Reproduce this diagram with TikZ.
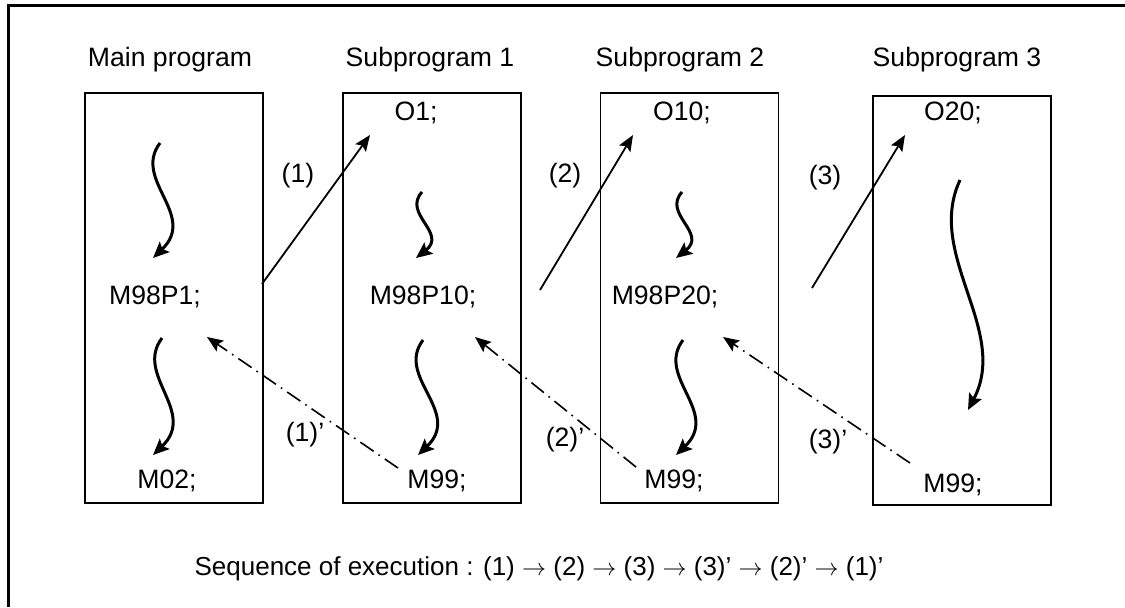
\documentclass[tikz,border=0pt]{standalone}
\usepackage{fontspec}
\setmainfont{Liberation Sans}
\usetikzlibrary{arrows.meta}

\begin{document}
\begin{tikzpicture}[x=0.5pt, y=-0.5pt, font=\fontsize{13.3}{16}\selectfont,
    prog/.style={draw, line width=0.75pt, minimum width=89pt, minimum height=205pt, inner sep=0pt},
    lbl/.style={anchor=base, inner sep=0pt},
    call/.style={-{Stealth[length=8pt, width=6.5pt, inset=1.5pt]}, line width=0.9pt},
    back/.style={call, line width=0.8pt, dash pattern=on 8pt off 3pt on 0.8pt off 3pt},
    flow/.style={-{Stealth[length=8pt, width=7pt, inset=1.5pt]}, line width=1.5pt}]
    \useasboundingbox (0,0) rectangle (1125,607);
    \draw[line width=1.35pt] (1125,5.5) -- (8.3,5.5) -- (8.3,607);

    % Nodes
    \node (mainbox) [prog] at (174,298) {};
    \node (sub1box) [prog] at (432,298) {};
    \node (sub2box) [prog] at (689.5,298) {};
    \node (sub3box) [prog, minimum height=204.5pt] at (962,300.5) {};

    \node (maintitle) [lbl] at (170,66) {Main program};
    \node (sub1title) [lbl] at (430,66) {Subprogram 1};
    \node (sub2title) [lbl] at (680,66) {Subprogram 2};
    \node (sub3title) [lbl] at (957,66) {Subprogram 3};

    \node (m98p1) [lbl] at (155,304) {M98P1;};
    \node (m02) [lbl] at (167,488) {M02;};
    \node (o1) [lbl] at (416,120) {O1;};
    \node (m98p10) [lbl] at (423,304) {M98P10;};
    \node (m99a) [lbl] at (437,488) {M99;};
    \node (o10) [lbl] at (682,120) {O10;};
    \node (m98p20) [lbl] at (665,304) {M98P20;};
    \node (m99b) [lbl] at (674,488) {M99;};
    \node (o20) [lbl] at (953,120) {O20;};
    \node (m99c) [lbl] at (953,492) {M99;};

    \node (go1) [lbl] at (298,182) {(1)};
    \node (go2) [lbl] at (565,182) {(2)};
    \node (go3) [lbl] at (825,184) {(3)};
    \node (ret1) [lbl] at (305,441) {(1)'};
    \node (ret2) [lbl] at (565,446) {(2)'};
    \node (ret3) [lbl] at (828,448) {(3)'};

    \node (seq) [lbl, font=\fontsize{13}{16}\selectfont] at (539,575) {Sequence of execution : (1) $\rightarrow$ (2) $\rightarrow$ (3) $\rightarrow$ (3)' $\rightarrow$ (2)' $\rightarrow$ (1)'};

    % Ends of the jumps
    \coordinate (call1s) at (262,284);  \coordinate (call1e) at (370,135);
    \coordinate (call2s) at (540,290);  \coordinate (call2e) at (633,135);
    \coordinate (call3s) at (812,288);  \coordinate (call3e) at (905,135);
    \coordinate (back1s) at (398,468);  \coordinate (back1e) at (207,337);
    \coordinate (back2s) at (636,467);  \coordinate (back2e) at (475,337);
    \coordinate (back3s) at (910,463);  \coordinate (back3e) at (723,337);

    % Ends of the run arrows
    \coordinate (run1a) at (160,143);  \coordinate (run1b) at (153,258);
    \coordinate (run2a) at (162,338);  \coordinate (run2b) at (153,455);
    \coordinate (run3a) at (423,340);  \coordinate (run3b) at (418,455);
    \coordinate (run4a) at (683,340);  \coordinate (run4b) at (676,455);
    \coordinate (run5a) at (422,192);  \coordinate (run5b) at (416,258);
    \coordinate (run6a) at (682,192);  \coordinate (run6b) at (676,258);
    \coordinate (run7a) at (960,180);  \coordinate (run7b) at (968,410);

    % Edges
    \draw[call] (call1s) -- (call1e);
    \draw[call] (call2s) -- (call2e);
    \draw[call] (call3s) -- (call3e);
    \draw[back] (back1s) -- (back1e);
    \draw[back] (back2s) -- (back2e);
    \draw[back] (back3s) -- (back3e);

    \foreach \r in {1,...,4}
        \draw[flow] (run\r a) .. controls +(-28,37) and +(45,-43) .. (run\r b);
    \foreach \r in {5,6}
        \draw[flow] (run\r a) .. controls +(-20,22) and +(32,-25) .. (run\r b);
    \draw[flow] (run7a) .. controls +(-35,75) and +(42,-80) .. (run7b);
\end{tikzpicture}
\end{document}
